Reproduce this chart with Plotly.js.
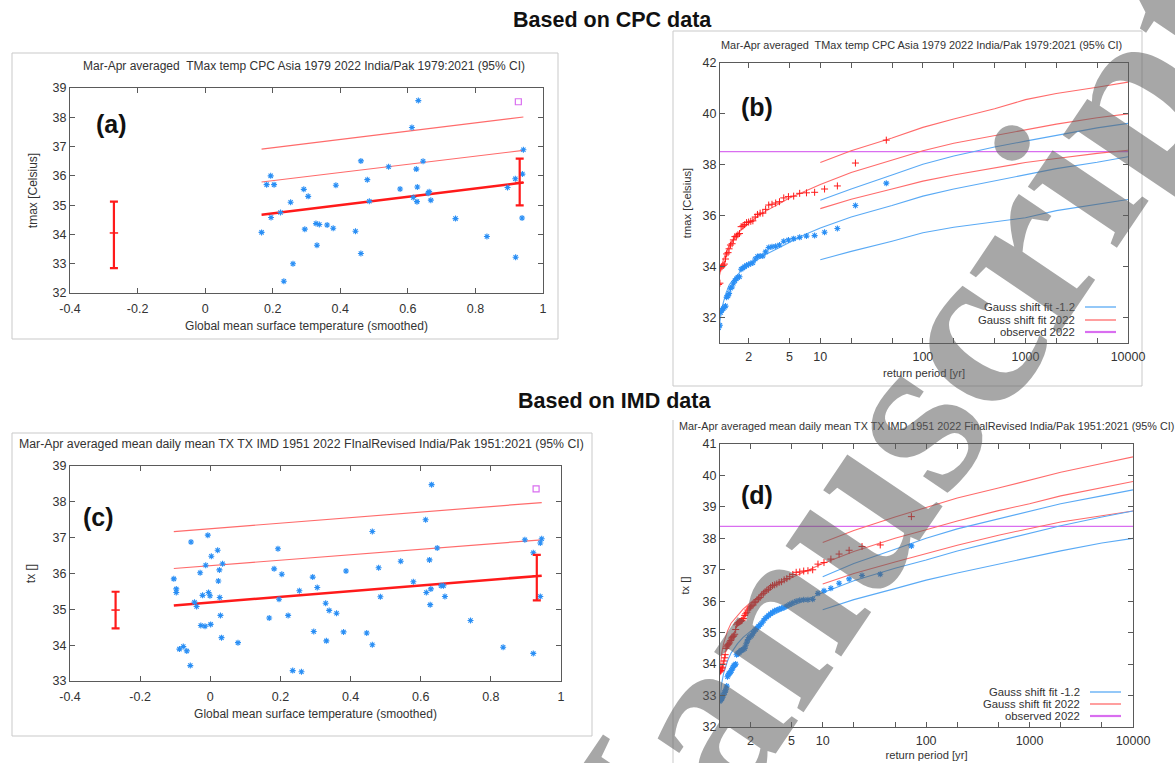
<!DOCTYPE html>
<html><head><meta charset="utf-8">
<script src="https://cdn.plot.ly/plotly-3.0.1.min.js"></script>
<style>html,body{margin:0;padding:0;background:#fff;}#chart{width:1175px;height:763px;}</style>
</head><body><div id="chart"></div>
<script>
// ---------- DATA ----------
// Panel (a): CPC, scatter vs GMST
const gmstA = [0.167,0.182,0.194,0.204,0.195,0.223,0.253,0.233,0.260,0.292,0.305,0.295,0.328,0.338,0.331,0.361,0.379,0.387,0.445,0.461,0.461,0.480,0.486,0.543,0.577,0.612,0.631,0.616,0.625,0.628,0.627,0.645,0.660,0.663,0.668,0.741,0.834,0.895,0.918,0.919,0.939,0.938,0.942];
const tmaxA = [34.07,35.70,36.00,35.70,34.58,34.75,35.10,32.40,33.00,35.54,35.30,34.18,34.37,34.34,33.63,34.32,34.21,35.68,34.11,36.51,33.35,35.87,35.13,36.31,35.55,37.65,38.57,35.26,36.23,35.62,35.12,36.50,35.41,35.46,35.17,34.54,33.93,35.60,35.90,33.22,36.06,34.56,36.89];
const obsA_x = [0.927], obsA_y = [38.53];
const fitA_x = [0.167, 0.942];
const fitA_mean = [34.67, 35.77];
const fitA_rv1 = [35.79, 36.87];
const fitA_rv2 = [36.91, 38.01];
const ciA_x = [-0.27, 0.931];
const ciA_mid = [34.05, 35.77];
const ciA_lo = [32.85, 34.99];
const ciA_hi = [35.12, 36.59];

// Panel (c): IMD, scatter vs GMST
const gmstC = [-0.104,-0.097,-0.097,-0.088,-0.077,-0.067,-0.057,-0.055,-0.045,-0.039,-0.029,-0.027,-0.022,-0.015,-0.013,-0.007,-0.005,-0.001,0.001,0.003,0.021,0.023,0.026,0.027,0.029,0.032,0.035,0.079,0.168,0.182,0.193,0.196,0.204,0.222,0.235,0.254,0.260,0.292,0.295,0.305,0.329,0.331,0.339,0.360,0.380,0.387,0.446,0.462,0.462,0.480,0.485,0.543,0.579,0.614,0.616,0.625,0.627,0.629,0.631,0.647,0.658,0.665,0.669,0.742,0.835,0.897,0.921,0.921,0.941,0.945,0.941];
const txC = [35.85,35.57,35.47,33.89,33.96,33.84,33.43,36.88,35.20,35.08,36.02,34.55,35.39,34.53,36.23,37.07,35.47,35.38,34.58,36.48,36.65,35.79,36.10,35.33,34.83,34.21,36.27,34.07,34.76,36.13,36.69,35.28,35.98,34.83,33.29,35.52,33.26,35.90,34.38,35.61,35.17,34.12,34.97,34.89,34.37,36.07,34.34,37.17,34.01,36.16,35.35,36.34,35.77,37.50,35.47,36.38,35.13,35.57,38.48,36.71,35.66,35.66,35.36,34.69,33.94,36.94,33.77,36.58,36.85,36.97,35.36];
const obsC_x = [0.929], obsC_y = [38.36];
const fitC_x = [-0.104, 0.945];
const fitC_mean = [35.11, 35.94];
const fitC_rv1 = [36.14, 36.94];
const fitC_rv2 = [37.17, 37.98];
const ciC_x = [-0.27, 0.931];
const ciC_mid = [34.98, 35.93];
const ciC_lo = [34.47, 35.25];
const ciC_hi = [35.49, 36.52];

// Panel (b): CPC return periods
const retTB = [44,22,14.67,11,8.8,7.33,6.29,5.5,4.89,4.4,4,3.67,3.38,3.14,2.93,2.75,2.59,2.44,2.32,2.2,2.1,2,1.91,1.83,1.76,1.69,1.63,1.57,1.52,1.47,1.42,1.38,1.33,1.29,1.26,1.22,1.19,1.16,1.13,1.1,1.07,1.05,1.02];
const pts2022B = [38.97,38.07,37.17,37.05,36.92,36.90,36.88,36.77,36.75,36.70,36.55,36.50,36.45,36.42,36.25,36.10,36.10,36.05,35.95,35.80,35.78,35.75,35.73,35.65,35.60,35.57,35.30,35.25,35.20,35.18,35.05,34.90,34.85,34.70,34.55,34.50,34.30,34.10,34.05,34.00,33.95,33.35,33.30];
const ptsPastB = [37.28,36.40,35.50,35.35,35.22,35.20,35.15,35.10,35.05,35.00,34.85,34.80,34.78,34.75,34.58,34.42,34.42,34.40,34.30,34.15,34.12,34.08,34.05,34.00,33.95,33.90,33.60,33.58,33.52,33.45,33.35,33.20,33.15,32.95,32.85,32.80,32.45,32.40,32.35,32.30,32.20,31.70,31.60];
const fitT_mid = [1.02,1.05,1.1,1.2,1.3,1.5,1.7,2,2.5,3,4,5,7,10,20,50,100,200,500,1000,2000,5000,10000];
const fitT_ci = [10,20,50,100,200,500,1000,2000,5000,10000];
const redMidB = [33.5,33.7,34.1,34.55,34.85,35.2,35.45,35.7,36.0,36.2,36.5,36.7,36.95,37.23,37.7,38.2,38.55,38.85,39.15,39.4,39.6,39.85,40.0];
const blueMidB = [31.5,31.9,32.4,32.95,33.3,33.6,33.85,34.05,34.3,34.5,34.75,34.95,35.25,35.52,35.95,36.4,36.77,37.05,37.38,37.63,37.85,38.1,38.32];
const redHiB = [38.09,38.55,39.05,39.47,39.8,40.2,40.56,40.8,41.05,41.25];
const redLoB = [36.28,36.65,37.05,37.36,37.6,37.88,38.09,38.25,38.45,38.57];
const blueHiB = [36.61,37.05,37.6,38.02,38.35,38.7,38.93,39.15,39.45,39.63];
const blueLoB = [34.27,34.6,35.0,35.33,35.55,35.75,35.92,36.2,36.45,36.64];
const observedB = 38.52;

// Panel (d): IMD return periods
const retTD = [72,36,24,18,14.4,12,10.29,9,8,7.2,6.55,6,5.54,5.14,4.8,4.5,4.24,4,3.79,3.6,3.43,3.27,3.13,3,2.88,2.77,2.67,2.57,2.48,2.4,2.32,2.25,2.18,2.12,2.06,2,1.95,1.89,1.85,1.8,1.76,1.71,1.67,1.64,1.6,1.57,1.53,1.5,1.47,1.44,1.41,1.38,1.36,1.33,1.31,1.29,1.26,1.24,1.22,1.2,1.18,1.16,1.14,1.13,1.11,1.09,1.07,1.06,1.04,1.03,1.01];
const pts2022D = [38.69,37.79,37.74,37.62,37.50,37.34,37.23,37.18,37.00,36.97,36.96,36.93,36.92,36.85,36.78,36.72,36.68,36.62,36.60,36.55,36.52,36.50,36.45,36.38,36.35,36.30,36.25,36.20,36.12,36.08,36.05,35.98,35.95,35.88,35.85,35.82,35.78,35.72,35.65,35.60,35.55,35.45,35.40,35.38,35.36,35.35,35.32,35.30,35.25,35.10,34.95,34.90,34.88,34.85,34.80,34.75,34.70,34.65,34.62,34.60,34.55,34.50,34.30,34.20,34.10,34.00,33.90,33.85,33.80,33.78,33.75];
const ptsPastD = [37.76,36.86,36.82,36.71,36.57,36.41,36.33,36.25,36.06,36.05,36.05,36.03,36.00,35.95,35.90,35.85,35.80,35.78,35.75,35.72,35.70,35.65,35.60,35.55,35.50,35.45,35.38,35.30,35.25,35.20,35.15,35.10,35.05,34.98,34.92,34.88,34.85,34.78,34.70,34.60,34.50,34.47,34.45,34.44,34.42,34.38,34.35,34.33,34.30,34.00,33.97,33.95,33.90,33.85,33.80,33.75,33.72,33.70,33.65,33.60,33.30,33.20,33.15,33.10,33.05,33.00,32.95,32.90,32.88,32.85,32.82];
const redMidD = [33.75,34.3,34.65,35.05,35.3,35.55,35.75,35.95,36.2,36.4,36.6,36.75,36.98,37.2,37.58,38.0,38.27,38.55,38.88,39.1,39.35,39.62,39.81];
const blueMidD = [32.85,33.35,33.7,34.1,34.35,34.65,34.85,35.05,35.3,35.5,35.7,35.85,36.05,36.27,36.65,37.05,37.31,37.6,37.92,38.16,38.4,38.68,38.87];
const redHiD = [37.87,38.25,38.68,38.99,39.28,39.6,39.86,40.1,40.38,40.59];
const redLoD = [36.55,36.88,37.25,37.52,37.78,38.1,38.32,38.52,38.72,38.87];
const blueHiD = [36.78,37.2,37.65,38.0,38.3,38.62,38.85,39.1,39.35,39.54];
const blueLoD = [35.73,36.05,36.4,36.67,36.9,37.18,37.39,37.6,37.85,38.0];
const observedD = 38.38;

// Tick labels
const gmstTicks = [-0.4,-0.2,0,0.2,0.4,0.6,0.8,1];
const gmstTickText = ['-0.4','-0.2','0','0.2','0.4','0.6','0.8','1'];
const retTicks = [2,5,10,20,50,100,200,500,1000,2000,5000,10000];
const retTickText = ['2','5','10','','','100','','','1000','','','10000'];
const legendLabels = ['Gauss shift fit -1.2','Gauss shift fit 2022','observed 2022'];
const titles = {
  a: 'Mar-Apr averaged  TMax temp CPC Asia 1979 2022 India/Pak 1979:2021 (95% CI)',
  b: 'Mar-Apr averaged  TMax temp CPC Asia 1979 2022 India/Pak 1979:2021 (95% CI)',
  c: 'Mar-Apr averaged mean daily mean TX TX IMD 1951 2022 FInalRevised India/Pak 1951:2021 (95% CI)',
  d: 'Mar-Apr averaged mean daily mean TX TX IMD 1951 2022 FinalRevised India/Pak 1951:2021 (95% CI)'
};

// ---------- STYLE / LAYOUT ----------
const W = 1175, H = 763;
const fx = p => p / W, fy = p => 1 - p / H;
const FONT = 'Liberation Sans, Arial, sans-serif';
const TXT = '#333333';
const BLUE_PT = '#2a8ff5', BLUE_LN = '#5aaaf5', RED_LN = '#ff6b6b', RED = '#ff1a1a', MAG = '#d96ef0';

function scatterPts(x, y, xa, ya) {
  return {x, y, xaxis: xa, yaxis: ya, type: 'scatter', mode: 'markers', hoverinfo: 'skip',
    marker: {symbol: 'asterisk-open', size: 5, color: BLUE_PT, line: {color: BLUE_PT, width: 1.1}}};
}
function line(x, y, xa, ya, color, width) {
  return {x, y, xaxis: xa, yaxis: ya, type: 'scatter', mode: 'lines', hoverinfo: 'skip',
    line: {color, width}};
}
function ciBars(x, mid, lo, hi, xa, ya) {
  return {x, y: mid, xaxis: xa, yaxis: ya, type: 'scatter', mode: 'markers', hoverinfo: 'skip',
    marker: {symbol: 'line-ew-open', size: 6, color: RED, line: {color: RED, width: 1.5}},
    error_y: {type: 'data', symmetric: false,
      array: hi.map((h, i) => h - mid[i]), arrayminus: mid.map((m, i) => m - lo[i]),
      color: RED, thickness: 2.2, width: 4}};
}
function obsPt(x, y, xa, ya) {
  return {x, y, xaxis: xa, yaxis: ya, type: 'scatter', mode: 'markers', hoverinfo: 'skip',
    marker: {symbol: 'square-open', size: 6, color: MAG, line: {color: MAG, width: 1.2}}};
}
function crosses(x, y, xa, ya) {
  return {x, y, xaxis: xa, yaxis: ya, type: 'scatter', mode: 'markers', hoverinfo: 'skip',
    marker: {symbol: 'cross-thin-open', size: 5, color: RED, line: {color: RED, width: 1}}};
}

const traces = [
  // (a)
  line(fitA_x, fitA_rv2, 'x', 'y', RED_LN, 1.2),
  line(fitA_x, fitA_rv1, 'x', 'y', RED_LN, 1.2),
  line(fitA_x, fitA_mean, 'x', 'y', RED, 2.5),
  scatterPts(gmstA, tmaxA, 'x', 'y'),
  ciBars(ciA_x, ciA_mid, ciA_lo, ciA_hi, 'x', 'y'),
  obsPt(obsA_x, obsA_y, 'x', 'y'),
  // (b)
  line([1, 10000], [observedB, observedB], 'x2', 'y2', MAG, 1.3),
  line(fitT_ci, redHiB, 'x2', 'y2', RED_LN, 1.1),
  line(fitT_ci, redLoB, 'x2', 'y2', RED_LN, 1.1),
  line(fitT_mid, redMidB, 'x2', 'y2', RED_LN, 1.1),
  line(fitT_ci, blueHiB, 'x2', 'y2', BLUE_LN, 1.1),
  line(fitT_ci, blueLoB, 'x2', 'y2', BLUE_LN, 1.1),
  line(fitT_mid, blueMidB, 'x2', 'y2', BLUE_LN, 1.1),
  crosses(retTB, pts2022B, 'x2', 'y2'),
  scatterPts(retTB, ptsPastB, 'x2', 'y2'),
  // (c)
  line(fitC_x, fitC_rv2, 'x3', 'y3', RED_LN, 1.2),
  line(fitC_x, fitC_rv1, 'x3', 'y3', RED_LN, 1.2),
  line(fitC_x, fitC_mean, 'x3', 'y3', RED, 2.5),
  scatterPts(gmstC, txC, 'x3', 'y3'),
  ciBars(ciC_x, ciC_mid, ciC_lo, ciC_hi, 'x3', 'y3'),
  obsPt(obsC_x, obsC_y, 'x3', 'y3'),
  // (d)
  line([1, 10000], [observedD, observedD], 'x4', 'y4', MAG, 1.3),
  line(fitT_ci, redHiD, 'x4', 'y4', RED_LN, 1.1),
  line(fitT_ci, redLoD, 'x4', 'y4', RED_LN, 1.1),
  line(fitT_mid, redMidD, 'x4', 'y4', RED_LN, 1.1),
  line(fitT_ci, blueHiD, 'x4', 'y4', BLUE_LN, 1.1),
  line(fitT_ci, blueLoD, 'x4', 'y4', BLUE_LN, 1.1),
  line(fitT_mid, blueMidD, 'x4', 'y4', BLUE_LN, 1.1),
  crosses(retTD, pts2022D, 'x4', 'y4'),
  scatterPts(retTD, ptsPastD, 'x4', 'y4')
];

const axBase = {
  showline: true, linecolor: '#5a5a5a', linewidth: 1, mirror: 'ticks', ticks: 'inside', ticklen: 5,
  tickcolor: '#5a5a5a', showgrid: false, zeroline: false, tickfont: {family: FONT, size: 12.5, color: TXT},
  fixedrange: true
};
function ax(o) { return Object.assign({}, axBase, o); }
const titleFont = {family: FONT, size: 12, color: TXT};
const titleFontS = {family: FONT, size: 11.2, color: TXT};

const layout = {
  width: W, height: H, autosize: false, showlegend: false,
  margin: {l: 0, r: 0, t: 0, b: 0}, paper_bgcolor: '#fff', plot_bgcolor: 'rgba(0,0,0,0)',
  font: {family: FONT, color: TXT},
  xaxis: ax({domain: [fx(70), fx(543)], range: [-0.4, 1], anchor: 'y', tickvals: gmstTicks, ticktext: gmstTickText, ticklabelstandoff: 4,
    title: {text: 'Global mean surface temperature (smoothed)', font: titleFont, standoff: 6}}),
  yaxis: ax({domain: [fy(293), fy(88)], range: [32, 39], dtick: 1, anchor: 'x',
    title: {text: 'tmax [Celsius]', font: titleFont, standoff: 12}}),
  xaxis2: ax({domain: [fx(720), fx(1128)], type: 'log', range: [0.022, 4], anchor: 'y2', tickvals: retTicks, ticktext: retTickText, ticklabelstandoff: 2,
    title: {text: 'return period [yr]', font: titleFontS, standoff: 6}}),
  yaxis2: ax({domain: [fy(343), fy(63)], range: [31, 42], tickvals: [32,34,36,38,40,42], anchor: 'x2',
    title: {text: 'tmax [Celsius]', font: titleFontS, standoff: 8}}),
  xaxis3: ax({domain: [fx(70), fx(561)], range: [-0.4, 1], anchor: 'y3', tickvals: gmstTicks, ticktext: gmstTickText, ticklabelstandoff: 4,
    title: {text: 'Global mean surface temperature (smoothed)', font: titleFont, standoff: 6}}),
  yaxis3: ax({domain: [fy(681), fy(466)], range: [33, 39], dtick: 1, anchor: 'x3',
    title: {text: 'tx []', font: titleFont, standoff: 14}}),
  xaxis4: ax({domain: [fx(720), fx(1133)], type: 'log', range: [0.007, 4], anchor: 'y4', tickvals: retTicks, ticktext: retTickText, ticklabelstandoff: 2,
    title: {text: 'return period [yr]', font: titleFontS, standoff: 4}}),
  yaxis4: ax({domain: [fy(727), fy(444)], range: [32, 41], dtick: 1, anchor: 'x4',
    title: {text: 'tx []', font: titleFontS, standoff: 10}}),
  shapes: [], annotations: []
};

// panel frames
const frameLine = {color: '#c9c9c9', width: 1};
[[12, 53, 558, 339], [673, 31, 1142, 386], [12, 433, 592, 736]].forEach(r => {
  layout.shapes.push({type: 'rect', xref: 'paper', yref: 'paper', x0: fx(r[0]), x1: fx(r[2]), y0: fy(r[3]), y1: fy(r[1]), line: frameLine, layer: 'below'});
});
layout.shapes.push({type: 'line', xref: 'paper', yref: 'paper', x0: fx(673), x1: fx(673), y0: 0, y1: fy(420), line: frameLine, layer: 'below'});

// legends (b) and (d), gnuplot style: text then line sample
function addLegend(xr, rows, lx0, lx1) {
  const cols = [BLUE_LN, RED_LN, MAG];
  legendLabels.forEach((t, i) => {
    layout.annotations.push({xref: 'paper', yref: 'paper', x: fx(xr), y: fy(rows[i]), xanchor: 'right', yanchor: 'middle',
      text: t, showarrow: false, font: {family: FONT, size: 11.3, color: TXT}});
    layout.shapes.push({type: 'line', xref: 'paper', yref: 'paper', x0: fx(lx0), x1: fx(lx1), y0: fy(rows[i]), y1: fy(rows[i]),
      line: {color: cols[i], width: i === 2 ? 2.2 : 1.3}});
  });
}
addLegend(1077, [307, 320, 332], 1085, 1116);
addLegend(1082, [692, 704, 716], 1090, 1121);

// titles
const ann = (x, y, text, o) => layout.annotations.push(Object.assign({xref: 'paper', yref: 'paper', x: fx(x), y: fy(y), text, showarrow: false,
  xanchor: 'center', yanchor: 'middle', font: {family: FONT, size: 12, color: TXT}}, o || {}));
ann(304, 66, titles.a);
ann(921, 45, titles.b, {font: {family: FONT, size: 10.9, color: TXT}});
ann(17, 444, titles.c, {xanchor: 'left', font: {family: FONT, size: 12.3, color: TXT}});
ann(677, 426, titles.d, {xanchor: 'left', font: {family: FONT, size: 10.8, color: TXT}});
// headers
const headFont = {family: 'Liberation Sans, Arial, sans-serif', size: 21.5, color: '#111'};
ann(612, 20, '<b>Based on CPC data</b>', {font: headFont});
ann(614, 401, '<b>Based on IMD data</b>', {font: headFont});
// panel labels
const labFont = {family: 'Liberation Sans, Arial, sans-serif', size: 25, color: '#111'};
ann(111, 124, '<b>(a)</b>', {font: labFont});
ann(757, 107, '<b>(b)</b>', {font: labFont});
ann(98, 517, '<b>(c)</b>', {font: labFont});
ann(757, 495, '<b>(d)</b>', {font: labFont});
// watermark
ann(873, 468, '<b>Manuscript</b>', {textangle: -56, font: {family: 'Liberation Serif, DejaVu Serif, serif', size: 235, color: 'rgba(95,95,95,0.55)'}});

Plotly.newPlot('chart', traces, layout, {staticPlot: true, displayModeBar: false});
</script>
</body></html>
